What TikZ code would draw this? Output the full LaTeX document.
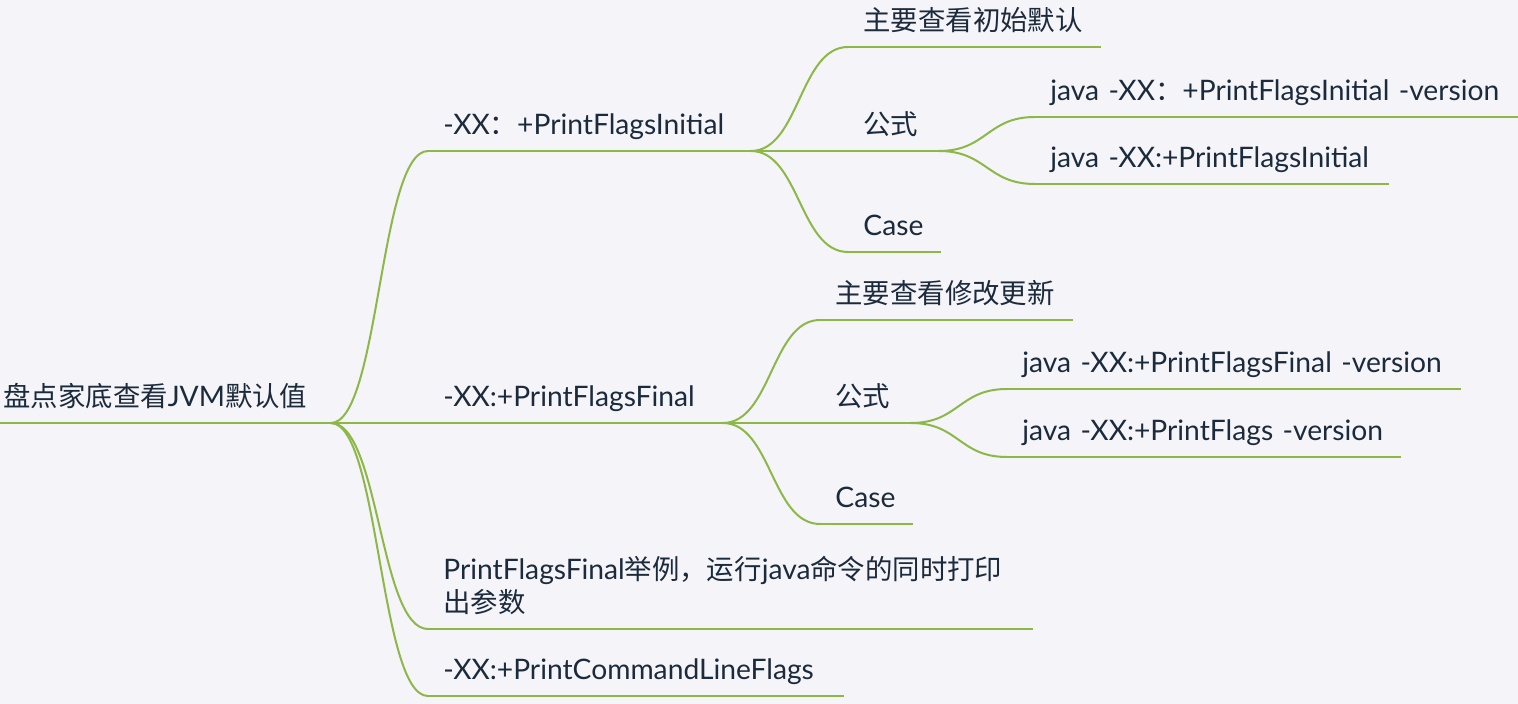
\documentclass[tikz,border=0pt]{standalone}
\usepackage{fontspec}
\setmainfont{Lato}[Scale=1.03]
\newfontfamily\cjkfont{Noto Sans CJK SC}
\newcommand\zh[1]{{\cjkfont #1}}
\usetikzlibrary{calc}
\definecolor{bgpage}{HTML}{F4F4F9}
\definecolor{leaf}{HTML}{8DB848}
\definecolor{ink}{HTML}{1C2B3B}

\begin{document}
\begin{tikzpicture}[x=0.5pt,y=-0.5pt,
    topic node/.style={anchor=south west,inner xsep=7.5pt,inner ysep=8pt,
      text depth=0pt,align=left,text=ink,font=\fontsize{13.7}{16.5}\selectfont,
      /utils/exec={\pgfmathsetmacro\topicwd{#1*0.5-15}},text width=\topicwd pt},
    root node/.style={topic node=#1,inner xsep=1.5pt,
      /utils/exec={\pgfmathsetmacro\topicwd{#1*0.5-3}},text width=\topicwd pt},
    stem/.style={draw=leaf,line width=1pt},
    branch/.style={to path={.. controls ($(\tikztostart)!0.5!(\tikztotarget |- \tikztostart)$)
      and ($(\tikztotarget)!0.5!(\tikztostart |- \tikztotarget)$) .. (\tikztotarget)}}]
  \fill[bgpage] (0,0) rectangle (1518,704);
  \useasboundingbox (0,0) rectangle (1518,704);

  \node[root node=330] (root) at (0,423) {\zh{盘点家底查看}JVM\zh{默认值}};

  \node[topic node=322] (init) at (428,151) {-XX\zh{：}+PrintFlagsInitial};
  \node[topic node=252] (initA) at (848,47) {\zh{主要查看初始默认}};
  \node[topic node=90] (initF) at (848,151) {\zh{公式}};
  \node[topic node=483] (initF1) at (1035,117) {java -XX\zh{：}+PrintFlagsInitial -version};
  \node[topic node=353] (initF2) at (1035,184) {java -XX:+PrintFlagsInitial};
  \node[topic node=92] (initC) at (848,252) {Case};

  \node[topic node=294] (final) at (428,423) {-XX:+PrintFlagsFinal};
  \node[topic node=252] (finalA) at (820,320) {\zh{主要查看修改更新}};
  \node[topic node=90] (finalF) at (820,423) {\zh{公式}};
  \node[topic node=453] (finalF1) at (1007,389) {java -XX:+PrintFlagsFinal -version};
  \node[topic node=393] (finalF2) at (1007,457) {java -XX:+PrintFlags -version};
  \node[topic node=92] (finalC) at (820,524) {Case};

  \node[topic node=604,text depth=16.5pt] (demo) at (428,629)
    {\mbox{PrintFlagsFinal\zh{举例，运行}java\zh{命令的同时打印}}\\\zh{出参数}};
  \node[topic node=415] (cmd) at (428,696) {-XX:+PrintCommandLineFlags};

  % underlines
  \foreach \n in {root,init,initA,initF,initF1,initF2,initC,
                  final,finalA,finalF,finalF1,finalF2,finalC,demo,cmd}
    \draw[stem] (\n.south west) -- (\n.south east);

  \path[stem]
    (root.south east) edge[branch] (init.south west)
    (root.south east) edge[branch] (final.south west)
    (root.south east) edge[branch] (demo.south west)
    (root.south east) edge[branch] (cmd.south west)
    (init.south east) edge[branch] (initA.south west)
    (init.south east) edge[branch] (initF.south west)
    (init.south east) edge[branch] (initC.south west)
    (initF.south east) edge[branch] (initF1.south west)
    (initF.south east) edge[branch] (initF2.south west)
    (final.south east) edge[branch] (finalA.south west)
    (final.south east) edge[branch] (finalF.south west)
    (final.south east) edge[branch] (finalC.south west)
    (finalF.south east) edge[branch] (finalF1.south west)
    (finalF.south east) edge[branch] (finalF2.south west)
    ;
\end{tikzpicture}
\end{document}
